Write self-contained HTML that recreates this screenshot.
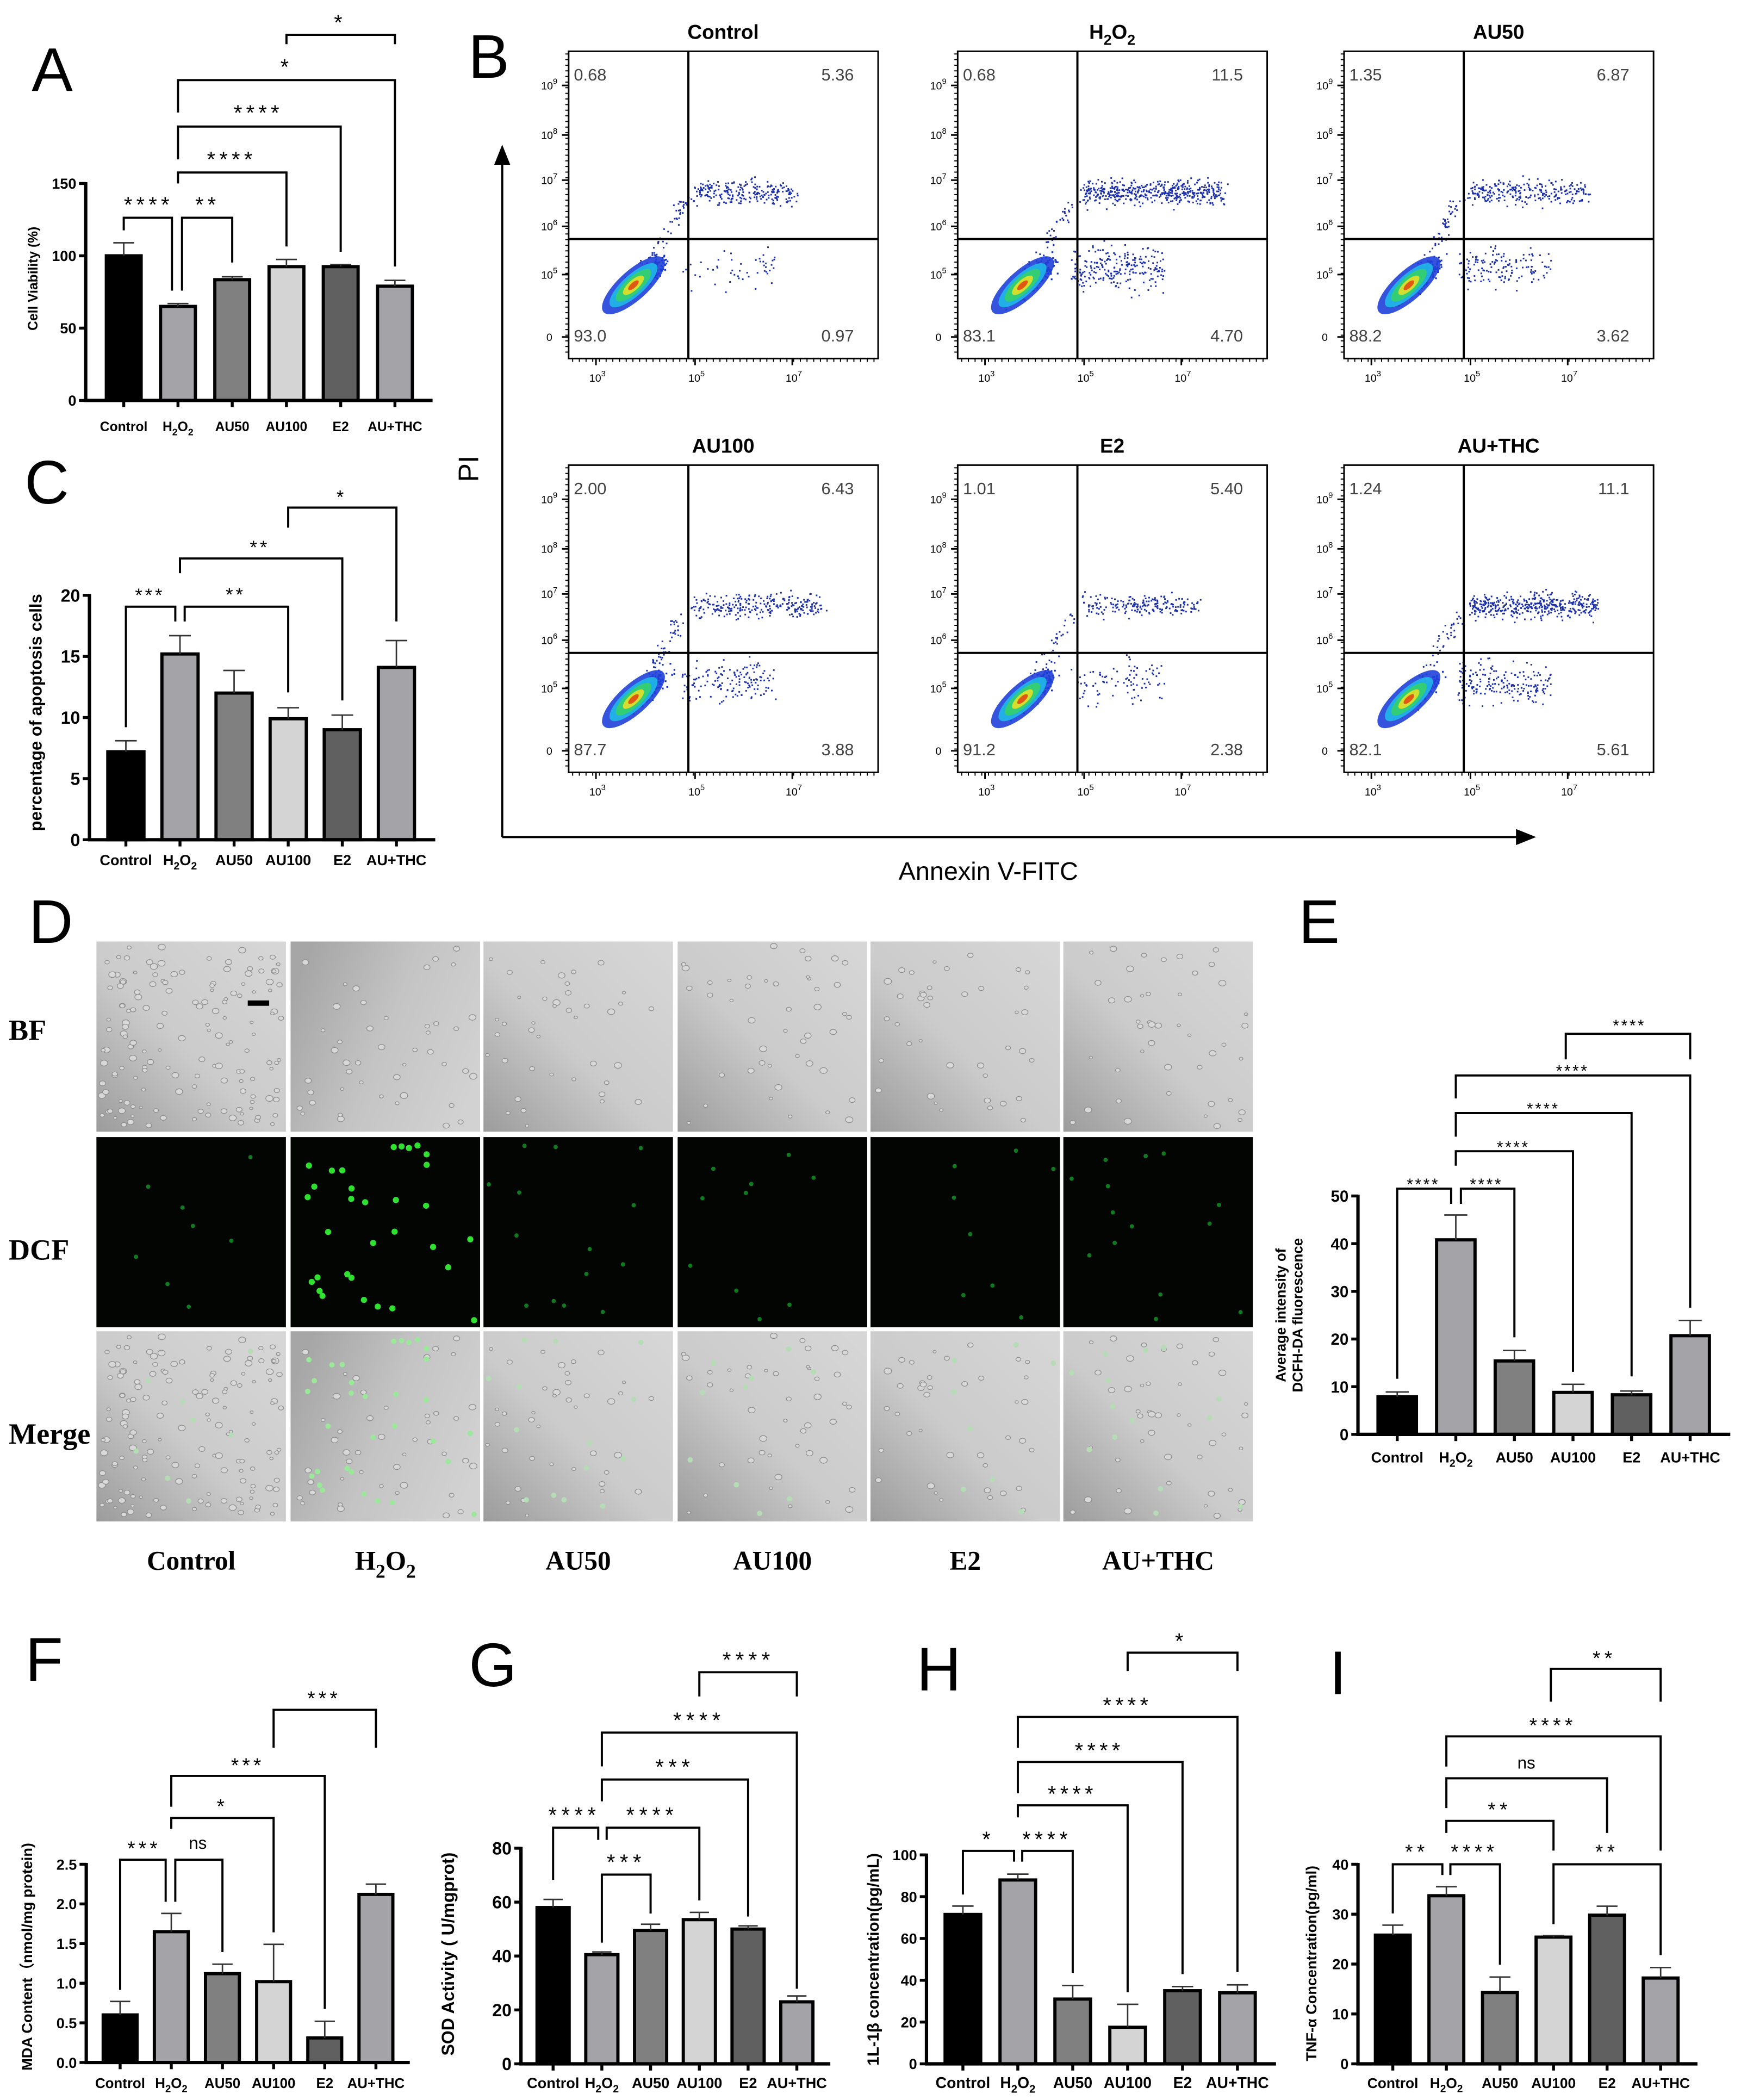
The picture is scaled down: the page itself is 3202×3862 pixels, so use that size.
<!DOCTYPE html>
<html><head><meta charset="utf-8">
<style>
html,body{margin:0;padding:0;background:#fff}
svg{display:block}
text{font-family:"Liberation Sans",Arial,sans-serif}
.serif{font-family:"Liberation Serif","Times New Roman",serif;font-weight:bold}
</style></head>
<body>
<svg id="fig" width="3202" height="3862" viewBox="0 0 1300 1568" preserveAspectRatio="none" xmlns="http://www.w3.org/2000/svg">
<defs>
<linearGradient id="bfg" x1="0" y1="1" x2="1" y2="0"><stop offset="0" stop-color="#9c9c9c"/><stop offset="0.45" stop-color="#cbcbcb"/><stop offset="1" stop-color="#d7d7d7"/></linearGradient>
<linearGradient id="bfg2" x1="0" y1="0.3" x2="1" y2="0.7"><stop offset="0" stop-color="#a6a6a6"/><stop offset="0.5" stop-color="#c4c4c4"/><stop offset="1" stop-color="#d2d2d2"/></linearGradient>
</defs>
<text x="39" y="68" font-size="46" text-anchor="middle">A</text>
<text x="365" y="58" font-size="46" text-anchor="middle">B</text>
<text x="35" y="376" font-size="46" text-anchor="middle">C</text>
<text x="38" y="704" font-size="46" text-anchor="middle">D</text>
<text x="985" y="704" font-size="46" text-anchor="middle">E</text>
<text x="33" y="1255" font-size="46" text-anchor="middle">F</text>
<text x="368" y="1259" font-size="46" text-anchor="middle">G</text>
<text x="701" y="1262" font-size="46" text-anchor="middle">H</text>
<text x="999" y="1265" font-size="46" text-anchor="middle">I</text>
<g>
<line x1="375" y1="625" x2="375" y2="120" stroke="#000" stroke-width="1.6"/>
<polygon points="375,108 369,123 381,123" fill="#000"/>
<line x1="375" y1="625" x2="1133" y2="625" stroke="#000" stroke-width="1.6"/>
<polygon points="1147,625 1132,619 1132,631" fill="#000"/>
</g>
<text x="357" y="350" font-size="21" text-anchor="middle" transform="rotate(-90 357 350)">PI</text>
<text x="738" y="657" font-size="19" text-anchor="middle">Annexin V-FITC</text>
</svg>
<script>
const NS = "http://www.w3.org/2000/svg";
const svg = document.getElementById("fig");

/* ---------- data ---------- */
const categories = ["Control", "H2O2", "AU50", "AU100", "E2", "AU+THC"];
const viabilityValues = [100, 65, 83.5, 92.5, 92.5, 79];
const viabilityErrors = [9, 2, 2, 5, 1.5, 4];
const viabilityTicks = [0, 50, 100, 150];
const apoptosisValues = [7.2, 15.2, 12.0, 9.9, 9.0, 14.1];
const apoptosisErrors = [0.9, 1.5, 1.85, 0.9, 1.2, 2.2];
const apoptosisTicks = [0, 5, 10, 15, 20];
const dcfValues = [7.9, 40.8, 15.4, 8.8, 8.3, 20.7];
const dcfErrors = [1, 5.2, 2.2, 1.7, 0.8, 3.2];
const dcfTicks = [0, 10, 20, 30, 40, 50];
const mdaValues = [0.6, 1.65, 1.12, 1.02, 0.31, 2.12];
const mdaErrors = [0.17, 0.23, 0.12, 0.47, 0.21, 0.13];
const mdaTicks = [0, 0.5, 1.0, 1.5, 2.0, 2.5];
const sodValues = [58, 40.5, 49.5, 53.5, 50, 23];
const sodErrors = [3, 1, 2.3, 2.7, 1.2, 2.2];
const sodTicks = [0, 20, 40, 60, 80];
const il1bValues = [71.5, 88, 31, 17.5, 35, 34];
const il1bErrors = [4, 2.8, 6.5, 11, 2, 3.8];
const il1bTicks = [0, 20, 40, 60, 80, 100];
const tnfValues = [25.8, 33.7, 14.3, 25.4, 29.8, 17.2];
const tnfErrors = [2, 1.8, 3.1, 0.3, 1.8, 2.1];
const tnfTicks = [0, 10, 20, 30, 40];
const flowTitles = ["Control", "H2O2", "AU50", "AU100", "E2", "AU+THC"];
const flowUL = ["0.68", "0.68", "1.35", "2.00", "1.01", "1.24"];
const flowUR = ["5.36", "11.5", "6.87", "6.43", "5.40", "11.1"];
const flowLL = ["93.0", "83.1", "88.2", "87.7", "91.2", "82.1"];
const flowLR = ["0.97", "4.70", "3.62", "3.88", "2.38", "5.61"];
const imageColumns = ["Control", "H2O2", "AU50", "AU100", "E2", "AU+THC"];

/* ---------- style/layout ---------- */
const barFill = ["#000000", "#a3a3a8", "#808080", "#d4d4d4", "#606060", "#a3a3a8"];

function mk(tag, attrs, parent) {
  const el = document.createElementNS(NS, tag);
  for (const k in attrs) el.setAttribute(k, attrs[k]);
  (parent || svg).appendChild(el);
  return el;
}
function slug(s) { return s.toLowerCase().replace(/\+/g, "-").replace(/[^a-z0-9-]/g, ""); }

function labelText(parent, name, x, y, fs, weight, anchor, cls) {
  const t = mk("text", {x: x, y: y, "font-size": fs, "font-weight": weight, "text-anchor": anchor}, parent);
  if (cls) t.setAttribute("class", cls);
  if (name === "H2O2") {
    const a = mk("tspan", {}, t); a.textContent = "H";
    const b = mk("tspan", {dy: fs * 0.3, "font-size": fs * 0.72}, t); b.textContent = "2";
    const c = mk("tspan", {dy: -fs * 0.3}, t); c.textContent = "O";
    const d = mk("tspan", {dy: fs * 0.3, "font-size": fs * 0.72}, t); d.textContent = "2";
  } else {
    t.textContent = name;
  }
  return t;
}

function drawBarChart(id, cfg, values, errors, ticks, brackets, fmt) {
  const g = mk("g", {});
  
  
  const yScale = v => cfg.y0 - (v / cfg.vmax) * (cfg.y0 - cfg.yTop);
  const xScale = i => cfg.c0 + i * cfg.step;
  values.forEach((v, i) => {
    const xc = xScale(i);
    const r = mk("rect", {x: xc - cfg.bw / 2, y: yScale(v), width: cfg.bw, height: cfg.y0 - yScale(v), fill: barFill[i], stroke: "#000", "stroke-width": 2.4}, g);
    
    
    const top = yScale(v + errors[i]);
    const e = mk("path", {d: "M" + xc + " " + yScale(v) + "V" + top + "M" + (xc - cfg.bw * 0.3) + " " + top + "H" + (xc + cfg.bw * 0.3), stroke: "#333", "stroke-width": 1.1, fill: "none"}, g);
    
    
  });
  const ax = mk("path", {d: "M" + cfg.ax + " " + (cfg.yTop - 1) + "V" + cfg.y0 + "H" + cfg.xEnd, stroke: "#000", "stroke-width": 2.5, fill: "none"}, g);
  
  
  ticks.forEach(t => {
    const y = yScale(t);
    mk("line", {x1: cfg.ax - 5, x2: cfg.ax, y1: y, y2: y, stroke: "#000", "stroke-width": 2.2}, g);
    const tl = mk("text", {x: cfg.ax - 7, y: y + cfg.tickFs * 0.36, "font-size": cfg.tickFs, "font-weight": "bold", "text-anchor": "end"}, g);
    tl.textContent = fmt ? fmt(t) : t;
    
    
  });
  categories.forEach((c, i) => {
    const xc = xScale(i);
    mk("line", {x1: xc, x2: xc, y1: cfg.y0, y2: cfg.y0 + 5, stroke: "#000", "stroke-width": 2.2}, g);
    const cl = labelText(g, c, xc, cfg.catY, cfg.catFs, "bold", "middle");
    
    
  });
  brackets.forEach(b => {
    const x1 = xScale(b[0]) + b[1], x2 = xScale(b[2]) + b[3];
    const p = mk("path", {d: "M" + x1 + " " + b[5] + "V" + b[4] + "H" + x2 + "V" + b[6], stroke: "#000", "stroke-width": 1.6, fill: "none"}, g);
    
    
    const isNs = b[7] === "ns";
    const fs = isNs ? cfg.starFs * 0.85 : cfg.starFs;
    const t = mk("text", {x: b[8], y: b[9] + (isNs ? fs * 0.27 : fs * 0.55), "font-size": fs, "text-anchor": "middle", "letter-spacing": isNs ? 0 : cfg.ls}, g);
    t.textContent = b[7];
    
    
  });
  const tt = mk("text", {x: cfg.titleX, y: cfg.titleY, "font-size": cfg.titleFs, "font-weight": "bold", "text-anchor": "middle", transform: "rotate(-90 " + cfg.titleX + " " + cfg.titleY + ")"}, g);
  if (cfg.title2) {
    const l1 = mk("tspan", {x: cfg.titleX, dy: -cfg.titleFs * 0.2}, tt); l1.textContent = cfg.title;
    const l2 = mk("tspan", {x: cfg.titleX, dy: cfg.titleFs * 1.2}, tt); l2.textContent = cfg.title2;
  } else tt.textContent = cfg.title;
  
  
}

/* Panel A */
drawBarChart("viability", {ax: 64, xEnd: 323, y0: 299, yTop: 137, vmax: 150, c0: 92.4, step: 40.5, bw: 26, tickFs: 11, catFs: 10, catY: 322, starFs: 16, ls: 3, title: "Cell Viability (%)", titleX: 28, titleY: 208, titleFs: 10},
  viabilityValues, viabilityErrors, viabilityTicks,
  [[0,0,1,-4.5,162.6,172,217,"****",111,149.5],[1,3,2,0,162.6,217,196,"**",155,149.5],[1,0,3,0,128.8,137,184,"****",173,115.7],[1,0,4,0,94.5,119,188,"****",193,81],[1,0,5,0,59.8,84,199,"*",214,46.7],[3,0,5,0,26,33,33,"*",254,13.5]]);
/* Panel C */
drawBarChart("apoptosis", {ax: 66.8, xEnd: 325, y0: 627, yTop: 444.5, vmax: 20, c0: 94, step: 40.4, bw: 27, tickFs: 13, catFs: 11, catY: 646, starFs: 14, ls: 2, title: "percentage of apoptosis cells", titleX: 31, titleY: 532, titleFs: 12.6},
  apoptosisValues, apoptosisErrors, apoptosisTicks,
  [[0,0,1,-3.5,453,543,464,"***",112,441.4],[1,3.5,3,0,453,464,517,"**",176,441],[1,0,4,0,417,428,523,"**",194,405.7],[3,0,5,0,379,394,464,"*",255,368]]);
/* Panel E */
drawBarChart("dcf", {ax: 1014, xEnd: 1292, y0: 1071, yTop: 893, vmax: 50, c0: 1043.3, step: 43.75, bw: 28.7, tickFs: 12, catFs: 11, catY: 1092, starFs: 12, ls: 1.5, title: "Average intensity of", title2: "DCFH-DA fluorescence", titleX: 962, titleY: 982, titleFs: 10.5},
  dcfValues, dcfErrors, dcfTicks,
  [[0,0,1,-3.5,887.5,1029.5,898.9,"****",1062.8,881.8],[1,3.8,2,0,887.5,898.9,998.5,"****",1109.9,881.8],[1,0,3,0,859.6,870.4,1024.3,"****",1130,854],[1,0,4,0,831.1,848.7,1027.7,"****",1152.4,825.4],[1,0,5,0,803,820.2,976.4,"****",1174.2,797],[3,-5.4,5,0,771.9,791,791,"****",1216.7,763.2]]);
/* Panel F */
drawBarChart("mda", {ax: 64.4, xEnd: 306, y0: 1540, yTop: 1392, vmax: 2.5, c0: 89.7, step: 38.2, bw: 25.3, tickFs: 11, catFs: 10.5, catY: 1559, starFs: 15, ls: 2.5, title: "MDA Content（nmol/mg protein)", titleX: 24, titleY: 1461, titleFs: 11},
  mdaValues, mdaErrors, mdaTicks,
  [[0,0,1,-4.2,1388.6,1485.8,1420,"***",107.6,1377],[1,3,2,0,1388.6,1420,1457.5,"ns",147.7,1377],[1,0,3,0,1357.4,1365.5,1442.8,"*",166,1345.6],[1,0,4,0,1326,1349,1500,"***",185,1315],[3,0,5,0,1276.7,1305,1305,"***",242,1265]],
  t => t.toFixed(1));
/* Panel G */
drawBarChart("sod", {ax: 389, xEnd: 620, y0: 1541, yTop: 1380, vmax: 80, c0: 413, step: 36.4, bw: 24, tickFs: 13, catFs: 11, catY: 1559, starFs: 16, ls: 3.5, title: "SOD Activity ( U/mgprot)", titleX: 339, titleY: 1459, titleFs: 13},
  sodValues, sodErrors, sodTicks,
  [[0,0,1,-2.7,1364.7,1403.6,1373.8,"****",429,1352],[1,3.6,3,0,1364.7,1373.8,1419,"****",487,1352],[1,0,2,0,1399.7,1450.5,1428.8,"***",467.7,1387],[1,0,4,0,1328.7,1345,1431,"***",504,1316],[1,0,5,0,1293.7,1318.9,1484.9,"****",522,1281],[3,0,5,0,1248.6,1266.7,1266.7,"****",559,1236]]);
/* Panel H */
drawBarChart("il1b", {ax: 691.8, xEnd: 952.8, y0: 1541, yTop: 1385, vmax: 100, c0: 719, step: 41, bw: 26.6, tickFs: 11, catFs: 11.5, catY: 1559, starFs: 16, ls: 3, title: "1L-1β concentration(pg/mL)", titleX: 656, titleY: 1463, titleFs: 12},
  il1bValues, il1bErrors, il1bTicks,
  [[0,0,1,-2.8,1382,1414.6,1390,"*",738,1370],[1,3.3,2,0,1382,1390,1473,"****",781.8,1370],[1,0,3,0,1348,1357,1487.5,"****",800.8,1336],[1,0,4,0,1315.6,1339,1474,"****",821,1303.6],[1,0,5,0,1282,1305,1472.5,"****",842,1270],[3,0,5,0,1234,1247.7,1247.7,"*",882,1222]]);
/* Panel I */
drawBarChart("tnf", {ax: 1014, xEnd: 1267.5, y0: 1541, yTop: 1392, vmax: 40, c0: 1040, step: 40, bw: 26, tickFs: 11, catFs: 10.7, catY: 1559, starFs: 15, ls: 3, title: "TNF-α Concentration(pg/ml)", titleX: 983, titleY: 1466, titleFs: 11},
  tnfValues, tnfErrors, tnfTicks,
  [[0,0,1,-3,1392,1428.7,1400,"**",1058,1379.5],[1,3,2,0,1392,1400,1467,"****",1101,1379.5],[3,0,5,0,1392,1436.7,1459.8,"**",1200,1379.5],[1,0,3,0,1359.6,1368.6,1381.8,"**",1119.8,1348],[1,0,4,0,1327.8,1350,1368.6,"ns",1139.7,1317],[1,0,5,0,1296.5,1319,1381.8,"****",1159.6,1285],[3,-2,5,0,1246,1270.6,1270.6,"**",1198,1235]]);

/* ---------- deterministic texture generator (flow dots / cells) ---------- */
let seed = 12345;
function rnd() { seed = (seed * 1103515245 + 12345) % 2147483648; return seed / 2147483648; }
function gauss() { return (rnd() + rnd() + rnd() + rnd() - 2) * 0.85; }

/* ---------- Panel B flow plots ---------- */
const flowDX = [0, 290.5, 579], flowDY = [0, 309];
const flowUR_n = [240, 480, 260, 260, 200, 420];
const flowLR_n = [50, 230, 140, 150, 90, 190];
const flowBandW = [75, 105, 90, 95, 85, 95];
flowTitles.forEach((title, k) => {
  const ox = flowDX[k % 3], oy = flowDY[Math.floor(k / 3)];
  const g = mk("g", {});
  
  
  const L = 424.6 + ox, T = 38.3 + oy, W = 231.1, H = 229.4;
  const vx = 514 + ox, hy = 178.5 + oy;
  const dots = mk("g", {}, g);
  
  
  for (let n = 0; n < flowUR_n[k]; n++) {
    const x = vx + 4 + rnd() * flowBandW[k] + gauss() * 4, y = 143 + oy + gauss() * 9;
    mk("rect", {x: x, y: y, width: 1.2, height: 1.2, fill: "#1b2fa8"}, dots);
  }
  for (let n = 0; n < flowLR_n[k]; n++) {
    const x = vx - 5 + rnd() * 70, y = 200 + oy + gauss() * 16;
    mk("rect", {x: x, y: y, width: 1.2, height: 1.2, fill: "#1b2fa8"}, dots);
  }
  for (let n = 0; n < 70; n++) {
    const t = rnd();
    const x = 470 + ox + t * 40 + gauss() * 6, y = 220 + oy - t * 70 + gauss() * 6;
    mk("rect", {x: x, y: y, width: 1.2, height: 1.2, fill: "#1b2fa8"}, dots);
  }
  for (let n = 0; n < 260; n++) {
    const t = gauss() * 1.1, s = gauss() * 0.55;
    const x = 480 + ox + t * 14 + s * 8, y = 208 + oy - t * 12 + s * 8;
    mk("rect", {x: x, y: y, width: 1.3, height: 1.3, fill: "#1230c8"}, dots);
  }
  const blob = [["#1f40d8", 30, 11], ["#20b8e8", 23, 8], ["#34d068", 17, 6], ["#e6e028", 10, 3.8], ["#e04a12", 5, 2]];
  blob.forEach(b => {
    mk("ellipse", {cx: 473 + ox, cy: 213 + oy, rx: b[1], ry: b[2], fill: b[0], opacity: 0.9, transform: "rotate(-42 " + (473 + ox) + " " + (213 + oy) + ")"}, dots);
  });
  mk("rect", {x: L, y: T, width: W, height: H, fill: "none", stroke: "#000", "stroke-width": 1.2}, g);
  mk("line", {x1: vx, x2: vx, y1: T, y2: T + H, stroke: "#000", "stroke-width": 1.6}, g);
  mk("line", {x1: L, x2: L + W, y1: hy, y2: hy, stroke: "#000", "stroke-width": 1.6}, g);
  const yl = [63.8, 100.8, 134.5, 169, 205];
  for (let y = T + 2; y < T + H - 2; y += 4.2) mk("line", {x1: L - 2.5, x2: L, y1: y, y2: y, stroke: "#000", "stroke-width": 0.8}, g);
  yl.concat([251.6]).forEach(y => mk("line", {x1: L - 5, x2: L, y1: y + oy, y2: y + oy, stroke: "#000", "stroke-width": 1.2}, g));
  for (let x = L + 3; x < L + W - 2; x += 5) mk("line", {x1: x, x2: x, y1: T + H, y2: T + H + 2.5, stroke: "#000", "stroke-width": 0.8}, g);
  [445, 519, 591.6].forEach(x => mk("line", {x1: x + ox, x2: x + ox, y1: T + H, y2: T + H + 5, stroke: "#000", "stroke-width": 1.2}, g));
  const exps = ["9", "8", "7", "6", "5"];
  yl.forEach((y, i) => {
    const t = mk("text", {x: 404 + ox, y: y + oy + 3, "font-size": 8}, g);
    const a = mk("tspan", {}, t); a.textContent = "10";
    const b = mk("tspan", {dy: -4, "font-size": 6}, t); b.textContent = exps[i];
    
    
  });
  const z = mk("text", {x: 408 + ox, y: 254.5 + oy, "font-size": 8}, g); z.textContent = "0";
  [["3", 445], ["5", 519], ["7", 591.6]].forEach(p => {
    const t = mk("text", {x: p[1] + ox - 5, y: 285 + oy, "font-size": 8}, g);
    const a = mk("tspan", {}, t); a.textContent = "10";
    const b = mk("tspan", {dy: -4, "font-size": 6}, t); b.textContent = p[0];
    
    
  });
  const tt = labelText(g, title, 540 + ox, 29 + oy, 15, "bold", "middle");
  
  
  const q = [[flowUL[k], 428.5, 60, "start"], [flowUR[k], 637.6, 60, "end"], [flowLL[k], 428.5, 255, "start"], [flowLR[k], 637.6, 255, "end"]];
  q.forEach(v => {
    const t = mk("text", {x: v[1] + ox, y: v[2] + oy, "font-size": 12.5, fill: "#444", "text-anchor": v[3]}, g);
    t.textContent = v[0];
    
    
  });
});

/* ---------- Panel D microscopy ---------- */
const colX = [72, 217, 361, 506, 650, 794], rowY = [703, 849, 994];
const cellCounts = [150, 45, 40, 45, 40, 45];
const greenCounts = [8, 32, 14, 10, 8, 14];
imageColumns.forEach((name, c) => {
  const x0 = colX[c], w = 141.5, h = 142;
  const cells = [];
  for (let n = 0; n < cellCounts[c]; n++) cells.push([x0 + 3 + rnd() * (w - 6), rnd() * (h - 6) + 3, 1.2 + rnd() * 1.6]);
  const greens = [];
  for (let n = 0; n < greenCounts[c]; n++) greens.push([x0 + 3 + rnd() * (w - 6), rnd() * (h - 6) + 3]);
  const bright = c === 1;
  ["bf", "dcf", "merge"].forEach((row, r) => {
    const y0 = rowY[r];
    const g = mk("g", {});
    
    
    if (row === "dcf") {
      mk("rect", {x: x0, y: y0, width: w, height: h, fill: "#030503"}, g);
      greens.forEach(p => mk("circle", {cx: p[0], cy: y0 + p[1], r: bright ? 2.3 : 1.6, fill: bright ? "#2fe030" : "#0f7a20"}, g));
    } else {
      mk("rect", {x: x0, y: y0, width: w, height: h, fill: c === 1 ? "url(#bfg2)" : "url(#bfg)"}, g);
      cells.forEach(p => mk("ellipse", {cx: p[0], cy: y0 + p[1], rx: p[2], ry: p[2] * 0.8, fill: "#d8d8d8", stroke: "#8c8c8c", "stroke-width": 0.5}, g));
      if (row === "merge") greens.forEach(p => mk("circle", {cx: p[0], cy: y0 + p[1], r: 2, fill: bright ? "#9be89b" : "#b6dcb6"}, g));
    }
  });
  const lab = labelText(svg, name, x0 + w / 2, 1172, 20, "bold", "middle", "serif");
  
  
});
const sb = mk("rect", {x: 185, y: 747, width: 16, height: 4, fill: "#000"});



const rowLabels = [["BF", 776.5], ["DCF", 940.5], ["Merge", 1078]];
rowLabels.forEach(r => {
  const t = mk("text", {x: 6.5, y: r[1], "font-size": 22, "class": "serif"});
  t.textContent = r[0];
  
  
});
</script>
</body></html>
